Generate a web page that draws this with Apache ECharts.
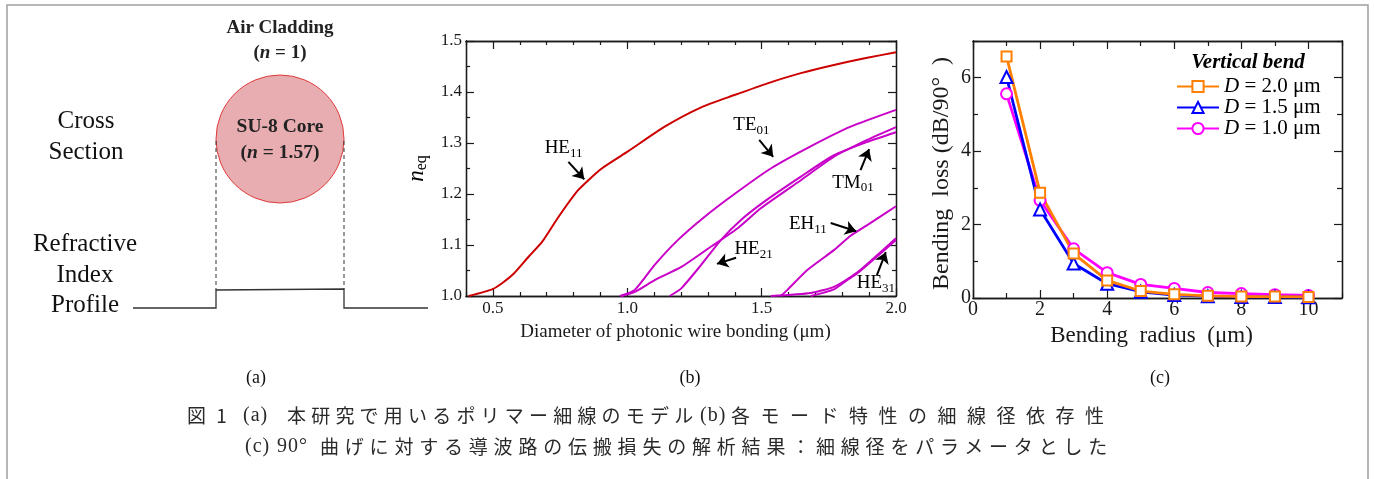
<!DOCTYPE html>
<html lang="ja">
<head>
<meta charset="UTF-8">
<title>Photonic wire bonding</title>
<script src="https://cdn.jsdelivr.net/npm/echarts@6.0.0/dist/echarts.min.js"></script>
<style>
body{margin:0;background:#fff;}
#wrap{position:relative;width:1375px;height:479px;overflow:hidden;}
#main{width:1375px;height:479px;}
.cap{position:absolute;white-space:nowrap;font-size:19px;line-height:22px;color:#2a2a2a;font-family:"Noto Sans CJK JP",sans-serif;}
.cap.lat{font-family:"Liberation Serif",serif;font-size:20px;letter-spacing:1px;}
</style>
</head>
<body>
<div id="wrap">
<div id="main"></div>
<!-- figure caption -->
<span class="cap" style="left:187px;top:404px;letter-spacing:3px;">図 1</span>
<span class="cap lat" style="left:243px;top:403px;">(a)</span>
<span class="cap" style="left:287px;top:404px;letter-spacing:5.2px;">本研究で用いるポリマー細線のモデル</span>
<span class="cap lat" style="left:700px;top:403px;">(b)</span>
<span class="cap" style="left:731px;top:404px;letter-spacing:10.5px;">各モード特性の細線径依存性</span>
<span class="cap lat" style="left:245px;top:434px;">(c)</span>
<span class="cap lat" style="left:277px;top:434px;">90°</span>
<span class="cap" style="left:320px;top:435px;letter-spacing:5.8px;">曲げに対する導波路の伝搬損失の解析結果：細線径をパラメータとした</span>
</div>
<script>
// (b) effective index of each mode vs wire diameter [um, n_eq]
var he11 = [[0.41,1.000],[0.497,1.013],[0.534,1.025],[0.578,1.044],[0.633,1.077],[0.683,1.106],[0.744,1.155],[0.818,1.208],[0.905,1.250],[1.004,1.284],[1.139,1.332],[1.275,1.370],[1.399,1.394],[1.522,1.417],[1.646,1.437],[1.769,1.453],[1.893,1.467],[2.0,1.478]];
var te01 = [[0.973,1.000],[1.028,1.012],[1.102,1.061],[1.189,1.110],[1.287,1.155],[1.399,1.200],[1.534,1.250],[1.670,1.290],[1.831,1.332],[2.0,1.365]];
var tm01 = [[0.979,1.000],[1.028,1.008],[1.102,1.031],[1.201,1.057],[1.312,1.097],[1.411,1.133],[1.497,1.172],[1.646,1.227],[1.769,1.273],[1.893,1.306],[2.0,1.331]];
var he21 = [[1.158,1.000],[1.201,1.015],[1.275,1.061],[1.349,1.110],[1.423,1.149],[1.510,1.185],[1.646,1.234],[1.769,1.276],[1.893,1.302],[2.0,1.321]];
var eh11 = [[1.571,1.000],[1.596,1.012],[1.670,1.051],[1.769,1.090],[1.831,1.118],[1.893,1.139],[2.0,1.176]];
var he31 = [[1.534,1.000],[1.683,1.006],[1.769,1.018],[1.855,1.046],[1.917,1.074],[2.0,1.113]];
var he12 = [[1.683,1.000],[1.769,1.013],[1.818,1.031],[1.855,1.044],[2.0,1.110]];

// (c) bending loss vs bending radius
var bendR  = [1, 2, 3, 4, 5, 6, 7, 8, 9, 10];
var loss20 = [6.58, 2.87, 1.21, 0.48, 0.19, 0.10, 0.06, 0.04, 0.04, 0.03];
var loss15 = [6.02, 2.41, 0.94, 0.39, 0.17, 0.08, 0.05, 0.03, 0.03, 0.02];
var loss10 = [5.56, 2.66, 1.34, 0.69, 0.37, 0.26, 0.15, 0.12, 0.09, 0.07];

// tick values
var neqXTicks = [0.5, 1.0, 1.5, 2.0];
var neqXMinor = [0.4, 0.6, 0.7, 0.8, 0.9, 1.1, 1.2, 1.3, 1.4, 1.6, 1.7, 1.8, 1.9];
var neqYTicks = [1.0, 1.1, 1.2, 1.3, 1.4, 1.5];
var neqYMinor = [1.05, 1.15, 1.25, 1.35, 1.45];
var lossXTicks = [0, 2, 4, 6, 8, 10];
var lossXMinor = [1, 3, 5, 7, 9, 11];
var lossYTicks = [0, 2, 4, 6];
var lossYMinor = [1, 3, 5, 7];

var serif = '"Liberation Serif", "DejaVu Serif", serif';
var ink = '#1a1a1a';

function pair(a, b) {
    var out = [];
    for (var i = 0; i < a.length; i++) out.push([a[i], b[i]]);
    return out;
}

function mkAxis(grid, pos, min, max, ticks, len, lbl, extra) {
    var ax = {
        type: 'value', gridIndex: grid, position: pos, min: min, max: max,
        axisLine: {show: true, onZero: false, lineStyle: {color: ink, width: 1.3}},
        axisTick: {show: true, inside: true, length: len, customValues: ticks, lineStyle: {color: ink, width: 1.2}},
        axisLabel: lbl ? Object.assign({show: true, customValues: ticks}, lbl) : {show: false},
        splitLine: {show: false}
    };
    return Object.assign(ax, extra || {});
}

var lblB = {fontFamily: serif, fontSize: 17, color: ink, margin: 4, formatter: function (v) { return v.toFixed(1); }};
var lblC = {fontFamily: serif, fontSize: 20, color: ink, margin: 2};

var modeRich = {
    b: {fontFamily: serif, fontSize: 19, color: '#000'},
    s: {fontFamily: serif, fontSize: 13, color: '#000', padding: [10, 0, 0, 0]}
};

var magenta = '#c800c8';
function modeLine(name, data, color) {
    return {
        name: name, type: 'line', xAxisIndex: 0, yAxisIndex: 0, data: data,
        showSymbol: false, smooth: 0.2,
        lineStyle: {color: color, width: 2}, itemStyle: {color: color}
    };
}

var modeSeries = [
    modeLine('HE11', he11, '#cc0000'),
    modeLine('TE01', te01, magenta),
    modeLine('TM01', tm01, magenta),
    modeLine('HE21', he21, magenta),
    modeLine('EH11', eh11, magenta),
    modeLine('HE31', he31, magenta),
    modeLine('HE12', he12, magenta)
];

// labels and arrows of panel (b)
modeSeries[0].markPoint = {
    symbol: 'circle', symbolSize: 1, itemStyle: {color: 'rgba(0,0,0,0)'}, silent: true,
    label: {show: true, position: 'inside', rich: modeRich},
    data: [
        {coord: [0.763, 1.290], label: {formatter: '{b|HE}{s|11}'}},
        {coord: [1.462, 1.335], label: {formatter: '{b|TE}{s|01}'}},
        {coord: [1.840, 1.222], label: {formatter: '{b|TM}{s|01}'}},
        {coord: [1.672, 1.141], label: {formatter: '{b|EH}{s|11}'}},
        {coord: [1.470, 1.092], label: {formatter: '{b|HE}{s|21}'}},
        {coord: [1.925, 1.025], label: {formatter: '{b|HE}{s|31}'}}
    ]
};
modeSeries[0].markLine = {
    silent: true, symbol: ['none', 'arrow'], symbolSize: 11,
    lineStyle: {color: '#000', width: 2, type: 'solid'}, label: {show: false},
    emphasis: {disabled: true},
    data: [
        [{coord: [0.781, 1.263]}, {coord: [0.840, 1.229]}],
        [{coord: [1.491, 1.306]}, {coord: [1.543, 1.273]}],
        [{coord: [1.868, 1.247]}, {coord: [1.900, 1.288]}],
        [{coord: [1.757, 1.143]}, {coord: [1.852, 1.127]}],
        [{coord: [1.405, 1.075]}, {coord: [1.334, 1.063]}],
        [{coord: [1.929, 1.041]}, {coord: [1.962, 1.086]}]
    ]
};

function lossLine(name, data, color, symbol, size) {
    return {
        name: name, type: 'line', xAxisIndex: 4, yAxisIndex: 4, data: data,
        symbol: symbol, symbolSize: size, showSymbol: true,
        lineStyle: {color: color, width: 2.8},
        itemStyle: {color: color, borderColor: color, borderWidth: 2.2}
    };
}

var lossSeries = [
    lossLine('D = 1.0 μm', pair(bendR, loss10), '#ff00ff', 'emptyCircle', 11),
    lossLine('D = 1.5 μm', pair(bendR, loss15), '#0000ff', 'emptyTriangle', 12),
    lossLine('D = 2.0 μm', pair(bendR, loss20), '#ff8000', 'emptyRect', 10)
];

function txt(x, y, text, size, extra) {
    return {
        type: 'text', x: x, y: y, silent: true,
        style: Object.assign({text: text, fontFamily: serif, fontSize: size, fill: '#111', align: 'center', verticalAlign: 'middle'}, extra || {})
    };
}

function nRich(size) {
    return {i: {fontFamily: serif, fontStyle: 'italic', fontWeight: 'bold', fontSize: size, fill: '#222'}};
}

var graphics = [
    // outer frame
    {type: 'rect', silent: true, shape: {x: 7, y: 5, width: 1361, height: 520}, style: {fill: 'none', stroke: '#a0a0a0', lineWidth: 1.5}},
    // (a) schematic
    {type: 'circle', silent: true, shape: {cx: 280, cy: 139, r: 64}, style: {fill: '#e7adb1', stroke: '#e03a3a', lineWidth: 1}},
    {type: 'line', silent: true, shape: {x1: 216, y1: 141, x2: 216, y2: 290}, style: {stroke: '#333', lineWidth: 1, lineDash: [4, 3]}},
    {type: 'line', silent: true, shape: {x1: 344, y1: 141, x2: 344, y2: 289}, style: {stroke: '#333', lineWidth: 1, lineDash: [4, 3]}},
    {type: 'polyline', silent: true, shape: {points: [[133, 308], [216, 308], [216, 290], [344, 289], [344, 308], [428, 308]]}, style: {fill: 'none', stroke: '#333', lineWidth: 1.3}},
    txt(280, 28, 'Air Cladding', 19, {fontWeight: 'bold', fill: '#222'}),
    txt(280, 53, '({i|n} = 1)', 19, {fontWeight: 'bold', fill: '#222', rich: nRich(19)}),
    txt(280, 127, 'SU-8 Core', 19.5, {fontWeight: 'bold', fill: '#222'}),
    txt(280, 153, '({i|n} = 1.57)', 19.5, {fontWeight: 'bold', fill: '#222', rich: nRich(19.5)}),
    txt(86, 121, 'Cross', 25),
    txt(86, 152, 'Section', 25),
    txt(85, 244, 'Refractive', 25),
    txt(85, 275, 'Index', 25),
    txt(85, 305, 'Profile', 25),
    // legend header of (c)
    txt(1248, 63, 'Vertical bend', 21, {fontWeight: 'bold', fontStyle: 'italic', fill: '#000'}),
    // panel letters
    txt(256, 378, '(a)', 18),
    txt(690, 378, '(b)', 18),
    txt(1160, 378, '(c)', 18)
];

var myChart = echarts.init(document.getElementById('main'));
var option = {
    animation: false,
    backgroundColor: '#fff',
    grid: [
        {left: 466, top: 41, width: 430, height: 255},
        {left: 973, top: 41, width: 369, height: 257}
    ],
    xAxis: [
        mkAxis(0, 'bottom', 0.4, 2.0, neqXTicks, 8, lblB, {
            name: 'Diameter of photonic wire bonding (μm)', nameLocation: 'middle', nameGap: 27,
            nameTextStyle: {fontFamily: serif, fontSize: 19, color: ink, padding: [0, 11, 0, 0]}
        }),
        mkAxis(0, 'bottom', 0.4, 2.0, neqXMinor, 4),
        mkAxis(0, 'top', 0.4, 2.0, neqXTicks, 8),
        mkAxis(0, 'top', 0.4, 2.0, neqXMinor, 4),
        mkAxis(1, 'bottom', 0, 11, lossXTicks, 8, lblC, {
            name: 'Bending  radius  (μm)', nameLocation: 'middle', nameGap: 22,
            nameTextStyle: {fontFamily: serif, fontSize: 23, color: ink, padding: [0, 12, 0, 0]}
        }),
        mkAxis(1, 'bottom', 0, 11, lossXMinor, 5),
        mkAxis(1, 'top', 0, 11, lossXTicks, 8),
        mkAxis(1, 'top', 0, 11, lossXMinor, 5)
    ],
    yAxis: [
        mkAxis(0, 'left', 1.0, 1.5, neqYTicks, 8, lblB, {
            name: '{i|n}{s|eq}', nameLocation: 'middle', nameGap: 36, nameRotate: 90,
            nameTextStyle: {rich: {
                i: {fontFamily: serif, fontStyle: 'italic', fontSize: 23, color: '#000'},
                s: {fontFamily: serif, fontSize: 16, color: '#000', padding: [10, 0, 0, 0]}
            }}
        }),
        mkAxis(0, 'left', 1.0, 1.5, neqYMinor, 4),
        mkAxis(0, 'right', 1.0, 1.5, neqYTicks, 8),
        mkAxis(0, 'right', 1.0, 1.5, neqYMinor, 4),
        mkAxis(1, 'left', 0, 7, lossYTicks, 8, lblC, {
            name: 'Bending  loss (dB/90°  )', nameLocation: 'middle', nameGap: 19, nameRotate: 90,
            nameTextStyle: {fontFamily: serif, fontSize: 24, color: ink, padding: [0, 8, 0, 0]}
        }),
        mkAxis(1, 'left', 0, 7, lossYMinor, 5),
        mkAxis(1, 'right', 0, 7, lossYTicks, 8),
        mkAxis(1, 'right', 0, 7, lossYMinor, 5)
    ],
    legend: {
        orient: 'vertical', left: 1176, top: 76, padding: 0, itemWidth: 42, itemHeight: 14, itemGap: 0,
        selectedMode: false,
        data: ['D = 2.0 μm', 'D = 1.5 μm', 'D = 1.0 μm'],
        formatter: function (name) { return '{i|D}' + name.substring(1); },
        textStyle: {
            fontFamily: serif, fontSize: 21, color: '#000', lineHeight: 20, padding: [0, 0, 0, 0],
            rich: {i: {fontFamily: serif, fontStyle: 'italic', fontSize: 21, color: '#000', lineHeight: 20}}
        }
    },
    series: modeSeries.concat(lossSeries),
    graphic: graphics
};
myChart.setOption(option);
</script>
</body>
</html>
